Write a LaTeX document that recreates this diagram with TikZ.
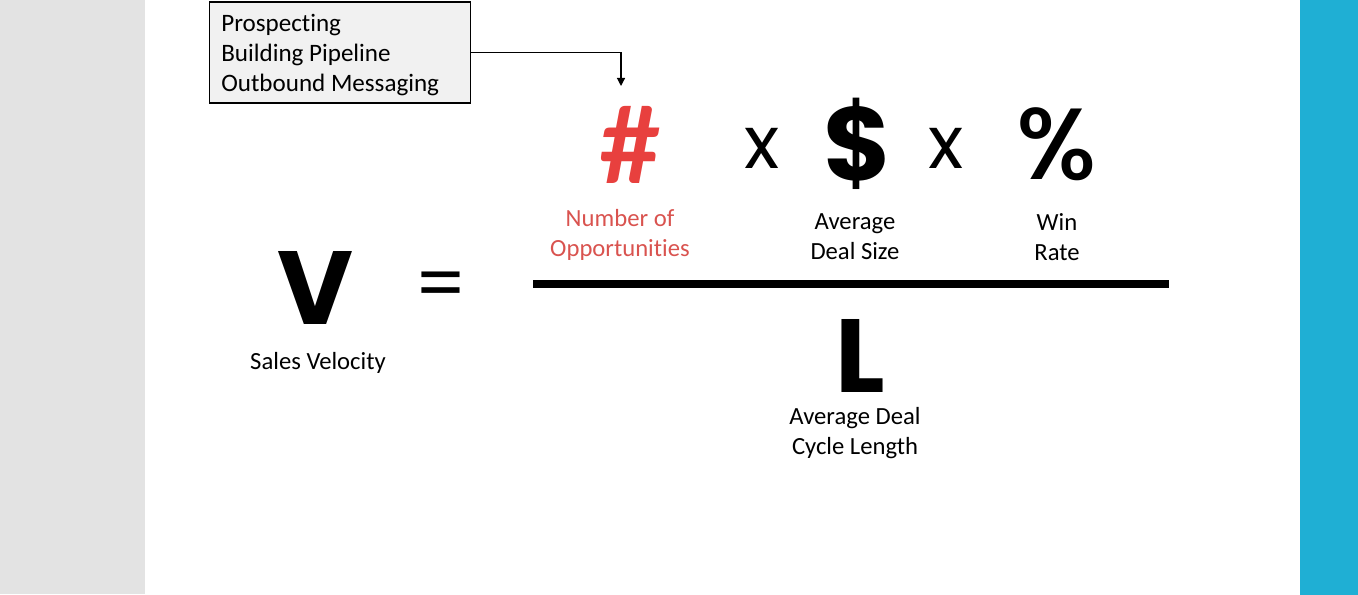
\documentclass[tikz,border=0pt]{standalone}
\usepackage{fontspec}
\setmainfont{Carlito}[Ligatures=NoCommon]
\newfontfamily\symfont{Poppins}
\newfontfamily\semifont{Poppins Medium}
\newfontfamily\hashfont{Lato}
\usepackage{tikz}
\usetikzlibrary{arrows.meta, positioning}
\definecolor{sidegray}{HTML}{E3E3E3}
\definecolor{sideblue}{HTML}{1FAFD4}
\definecolor{notebg}{HTML}{F1F1F1}
\definecolor{hashred}{HTML}{E8403E}
\definecolor{labelred}{HTML}{D9534F}
\tikzset{
  bigsym/.style={font=\symfont\bfseries\fontsize{78}{80}\selectfont, inner sep=0pt},
  pctsym/.style={font=\semifont\fontsize{76}{80}\selectfont, inner sep=0pt},
  hashsym/.style={font=\hashfont\bfseries\fontsize{80}{82}\selectfont, inner sep=0pt},
  timessym/.style={font=\symfont\fontsize{55}{60}\selectfont, inner sep=0pt},
  lbl/.style={font=\fontsize{18.5}{22.5}\selectfont, align=center, inner sep=0pt},
  notebox/.style={draw=black, line width=1.1pt, fill=notebg, align=flush left,
                  font=\fontsize{18.8}{22.5}\selectfont,
                  minimum width=196pt, minimum height=76pt, inner xsep=9pt,
                  text width=178pt},
  arr/.style={-{Triangle[width=6pt,length=6pt]}, line width=0.9pt},
}

\begin{document}
\begin{tikzpicture}[x=0.75pt, y=-0.75pt]
  \useasboundingbox (0,0) rectangle (1358,595);

  %% side bands
  \fill[sidegray] (0,0) rectangle (145,594);
  \fill[sideblue] (1300,0) rectangle (1358,595);

  %% note box and its arrow
  \node[notebox] (note) at (340,52.5) {\rule{0pt}{17pt}Prospecting\\Building Pipeline\\Outbound Messaging};
  \coordinate (tip) at (621,86);
  \draw[arr] (note.east) -| (tip);

  %% numerator
  \node[hashsym, hashred] (num) at (630,145) {\#};
  \node[timessym] (x1) at (762,148) {x};
  \node[bigsym] (deal) at (858,144) {\$};
  \node[timessym] (x2) at (946,148) {x};
  \node[pctsym] (win) at (1057,144) {\%};

  \node[lbl, labelred] (numl) at (620,235) {Number of\\Opportunities};
  \node[lbl] (deall) at (855,237) {Average\\Deal Size};
  \node[lbl] (winl) at (1057,237) {Win\\Rate};

  %% fraction bar
  \draw[line width=6pt] (533,284) -- (1169,284);

  %% left side
  \node[bigsym] (vel) at (315,288) {V};
  \node[lbl] (vell) at (318,363) {Sales Velocity};
  \node[timessym] (eq) at (441,291) {=};

  %% denominator
  \node[bigsym] (len) at (860,356) {L};
  \node[lbl] (lenl) at (855,433) {Average Deal\\Cycle Length};

\end{tikzpicture}
\end{document}
